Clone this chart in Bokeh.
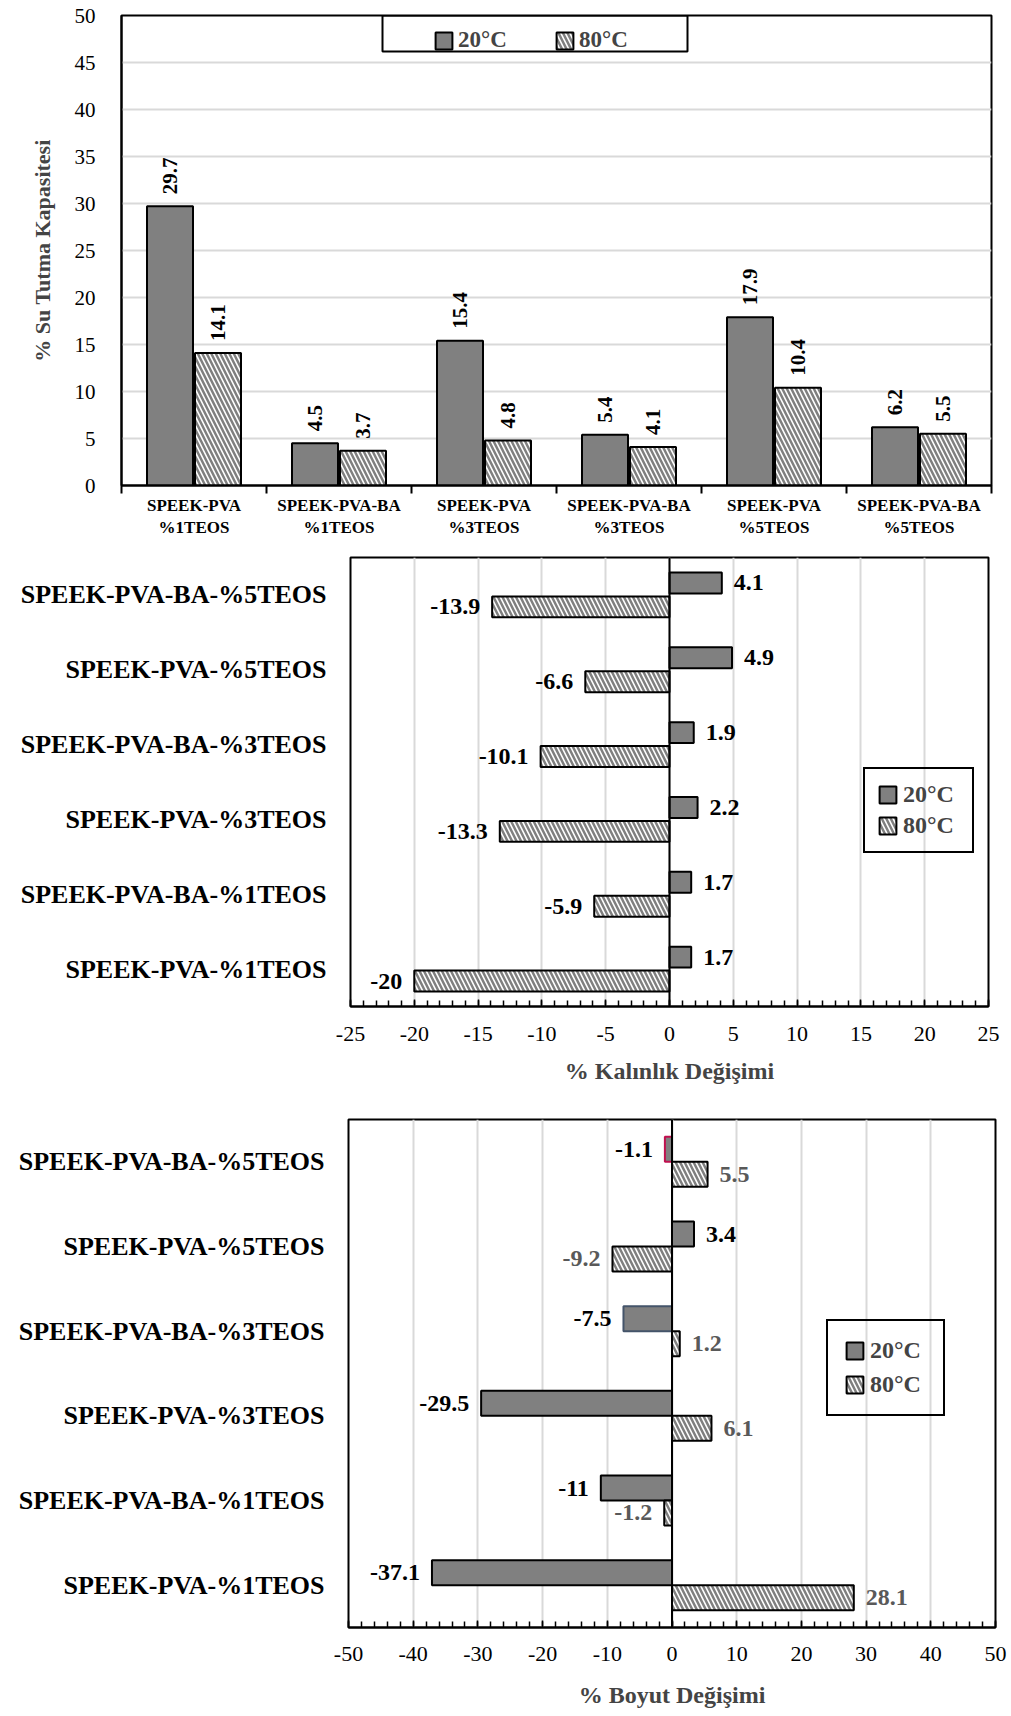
from math import pi
from bokeh.plotting import figure
from bokeh.models import (ColumnDataSource, FactorRange, Range1d, LinearAxis, FixedTicker,
                          SingleIntervalTicker, Legend, LegendItem, Span, BoxAnnotation,
                          NumeralTickFormatter)
from bokeh.transform import dodge
from bokeh.embed import file_html
from bokeh.resources import INLINE
from bokeh.core.properties import value

# ---------------- data ----------------
categories = ["SPEEK-PVA-%1TEOS", "SPEEK-PVA-BA-%1TEOS", "SPEEK-PVA-%3TEOS",
              "SPEEK-PVA-BA-%3TEOS", "SPEEK-PVA-%5TEOS", "SPEEK-PVA-BA-%5TEOS"]
top_labels = ["SPEEK-PVA\n%1TEOS", "SPEEK-PVA-BA\n%1TEOS", "SPEEK-PVA\n%3TEOS",
              "SPEEK-PVA-BA\n%3TEOS", "SPEEK-PVA\n%5TEOS", "SPEEK-PVA-BA\n%5TEOS"]
series_names = ["20°C", "80°C"]

water_20 = [29.7, 4.5, 15.4, 5.4, 17.9, 6.2]
water_80 = [14.1, 3.7, 4.8, 4.1, 10.4, 5.5]

thick_20 = [1.7, 1.7, 2.2, 1.9, 4.9, 4.1]
thick_80 = [-20, -5.9, -13.3, -10.1, -6.6, -13.9]

dim_20 = [-37.1, -11, -29.5, -7.5, 3.4, -1.1]
dim_80 = [28.1, -1.2, 6.1, 1.2, -9.2, 5.5]

# ---------------- styles ----------------
FONT = "Liberation Serif"
DARK = "#808080"
HATCH = "#7f7f7f"
GRID = "#d9d9d9"
dim_20_outline = ["black", "black", "black", "#44546a", "black", "#c0104f"]


def fmt(v):
    return f"{v:g}"


def side(vals, d=12):
    return ([d if v >= 0 else -d for v in vals],
            ["left" if v >= 0 else "right" for v in vals])


def base_fig(**kw):
    p = figure(output_backend="svg", toolbar_location=None, **kw)
    p.outline_line_color = "black"
    p.outline_line_width = 2
    p.outline_line_alpha = 1
    p.background_fill_color = "white"
    p.border_fill_color = "white"
    return p


# ================= Figure 1 : water uptake =================
n = len(top_labels)
centers = [i + 0.5 for i in range(n)]          # category slots on the x scale
bounds = list(range(n + 1))                    # category boundaries (tick marks)
p1 = base_fig(x_range=Range1d(0, n), y_range=Range1d(0, 50),
              frame_width=870, frame_height=470,
              min_border_left=121, min_border_right=20, min_border_top=15, min_border_bottom=58,
              x_axis_location=None)
p1.xgrid.visible = False
p1.yaxis.ticker = SingleIntervalTicker(interval=5, num_minor_ticks=0)
p1.yaxis.formatter = NumeralTickFormatter(format="0")
p1.yaxis.major_tick_line_color = None
p1.yaxis.minor_tick_line_color = None
p1.yaxis.axis_line_color = "black"
p1.yaxis.axis_line_width = 2
p1.yaxis.major_label_text_font = FONT
p1.yaxis.major_label_text_font_size = "21px"
p1.yaxis.major_label_text_color = "black"
p1.yaxis.major_label_standoff = 20
p1.yaxis.axis_label = "% Su Tutma Kapasitesi"
p1.yaxis.axis_label_text_font = FONT
p1.yaxis.axis_label_text_font_style = "bold"
p1.yaxis.axis_label_text_font_size = "22px"
p1.yaxis.axis_label_standoff = 17
p1.ygrid.grid_line_color = GRID
p1.ygrid.grid_line_width = 2

tick_axis = LinearAxis(ticker=FixedTicker(ticks=bounds),
                       major_label_overrides={b: "" for b in bounds},
                       major_label_text_font_size="1px", major_label_standoff=0,
                       major_tick_out=8, major_tick_in=0, major_tick_line_width=2,
                       minor_tick_line_color=None,
                       axis_line_color="black", axis_line_width=2)
label_axis = LinearAxis(ticker=FixedTicker(ticks=centers),
                        major_label_overrides={c: lab for c, lab in zip(centers, top_labels)},
                        major_tick_line_color=None, minor_tick_line_color=None,
                        axis_line_color=None,
                        major_label_text_font=FONT, major_label_text_font_style="bold",
                        major_label_text_font_size="17px", major_label_text_color="black",
                        major_label_standoff=-4)
p1.add_layout(tick_axis, "below")
p1.add_layout(label_axis, "below")

src1 = ColumnDataSource(dict(xc=centers, v20=water_20, v80=water_80,
                             t20=[fmt(v) for v in water_20], t80=[fmt(v) for v in water_80]))
r1a = p1.vbar(x=dodge("xc", -0.1655), top="v20", width=0.317, source=src1,
              fill_color=DARK, line_color="black", line_width=2)
r1b = p1.vbar(x=dodge("xc", 0.1655), top="v80", width=0.317, source=src1,
              fill_color="white", hatch_pattern="\\", hatch_color=HATCH, hatch_weight=2.5,
              hatch_scale=9, line_color="black", line_width=2)
for xo, col, tcol in ((-0.1655, "v20", "t20"), (0.1655, "v80", "t80")):
    p1.text(x=dodge("xc", xo), y=col, text=tcol,
            source=src1, angle=pi / 2, text_align="left", text_baseline="middle", y_offset=-12,
            text_font=value(FONT), text_font_style="bold", text_font_size="21px",
            text_color="black")

leg1 = Legend(items=[LegendItem(label=series_names[0], renderers=[r1a]),
                     LegendItem(label=series_names[1], renderers=[r1b])],
              orientation="horizontal", location=(312, 432), padding=6, margin=0,
              glyph_width=21, glyph_height=21, label_standoff=4, label_width=50, spacing=46,
              border_line_color=None, background_fill_alpha=0,
              label_text_font=FONT, label_text_font_style="bold", label_text_font_size="23px")
p1.add_layout(leg1)
p1.add_layout(BoxAnnotation(left=261, right=566, top=470, bottom=434,
                            left_units="screen", right_units="screen",
                            top_units="screen", bottom_units="screen",
                            fill_color=None, fill_alpha=0, line_color="black", line_width=2,
                            line_alpha=1))


# ================= horizontal charts =================
def hchart(v20, v80, xr, interval, title, fw, fh, ml, mr, mt, mb, leg_loc, leg_pad, leg_spacing,
           outline20=None, label80_color="black", cat_standoff=16, lab_standoff=20,
           title_standoff=14):
    p = base_fig(y_range=FactorRange(*categories), x_range=Range1d(*xr),
                 frame_width=fw, frame_height=fh,
                 min_border_left=ml, min_border_right=mr, min_border_top=mt, min_border_bottom=mb)
    p.ygrid.visible = False
    p.xgrid.grid_line_color = GRID
    p.xgrid.grid_line_width = 2
    ax = p.xaxis[0]
    ax.ticker = SingleIntervalTicker(interval=interval, num_minor_ticks=5)
    ax.formatter = NumeralTickFormatter(format="0")
    ax.major_tick_in = 7
    ax.major_tick_out = 0
    ax.minor_tick_in = 6
    ax.minor_tick_out = 0
    ax.major_tick_line_width = 1.5
    ax.minor_tick_line_width = 1.5
    ax.major_tick_line_color = "black"
    ax.minor_tick_line_color = "black"
    ax.axis_line_color = "black"
    ax.axis_line_width = 2
    ax.major_label_text_font = FONT
    ax.major_label_text_font_size = "22px"
    ax.major_label_text_color = "black"
    ax.major_label_standoff = lab_standoff
    ax.axis_label = title
    ax.axis_label_text_font = FONT
    ax.axis_label_text_font_style = "bold"
    ax.axis_label_text_font_size = "24px"
    ax.axis_label_standoff = title_standoff
    ay = p.yaxis[0]
    ay.axis_line_color = None
    ay.major_tick_line_color = None
    ay.minor_tick_line_color = None
    ay.major_label_text_font = FONT
    ay.major_label_text_font_style = "bold"
    ay.major_label_text_font_size = "26px"
    ay.major_label_text_color = "black"
    ay.major_label_standoff = cat_standoff

    xo20, al20 = side(v20)
    xo80, al80 = side(v80)
    src = ColumnDataSource(dict(cat=categories, v20=v20, v80=v80,
                                t20=[fmt(v) for v in v20], t80=[fmt(v) for v in v80],
                                xo20=xo20, al20=al20, xo80=xo80, al80=al80,
                                lc20=outline20 or ["black"] * len(categories)))
    h = 0.28 if outline20 is None else 0.295
    off = 0.16 if outline20 is None else 0.1475
    ra = p.hbar(y=dodge("cat", off, range=p.y_range), left=0, right="v20", height=h, source=src,
                fill_color=DARK, line_color="lc20", line_width=2)
    rb = p.hbar(y=dodge("cat", -off, range=p.y_range), left=0, right="v80", height=h, source=src,
                fill_color="white", hatch_pattern="\\", hatch_color=HATCH, hatch_weight=2.5,
                hatch_scale=9, line_color="black", line_width=2)
    p.add_layout(Span(location=0, dimension="height", line_color="black", line_width=2))
    p.text(x="v20", y=dodge("cat", off, range=p.y_range), text="t20", source=src,
           x_offset="xo20", text_align="al20", text_baseline="middle",
           text_font=value(FONT), text_font_style="bold", text_font_size="24px",
           text_color="black")
    p.text(x="v80", y=dodge("cat", -off, range=p.y_range), text="t80", source=src,
           x_offset="xo80", text_align="al80", text_baseline="middle",
           text_font=value(FONT), text_font_style="bold", text_font_size="24px",
           text_color=label80_color)
    leg = Legend(items=[LegendItem(label=series_names[0], renderers=[ra]),
                        LegendItem(label=series_names[1], renderers=[rb])],
                 orientation="vertical", location=leg_loc, padding=leg_pad, margin=0,
                 glyph_width=21, glyph_height=21, label_standoff=5, label_width=57,
                 spacing=leg_spacing, border_line_color="black", border_line_width=2,
                 border_line_alpha=1, background_fill_alpha=0,
                 label_text_font=FONT, label_text_font_style="bold", label_text_font_size="24px")
    p.add_layout(leg)
    return p


p2 = hchart(thick_20, thick_80, (-25, 25), 5, "% Kalınlık Değişimi",
            fw=638, fh=449, ml=350, mr=23, mt=14, mb=89,
            leg_loc=(513, 153), leg_pad=12, leg_spacing=4,
            cat_standoff=18, lab_standoff=20, title_standoff=14)

p3 = hchart(dim_20, dim_80, (-50, 50), 10, "% Boyut Değişimi",
            fw=647, fh=508, ml=348, mr=16, mt=24, mb=86,
            leg_loc=(478, 211), leg_pad=16, leg_spacing=7,
            outline20=dim_20_outline, label80_color="#595959",
            cat_standoff=18, lab_standoff=19, title_standoff=18)

open("out.html", "w").write(file_html([p1, p2, p3], INLINE))
